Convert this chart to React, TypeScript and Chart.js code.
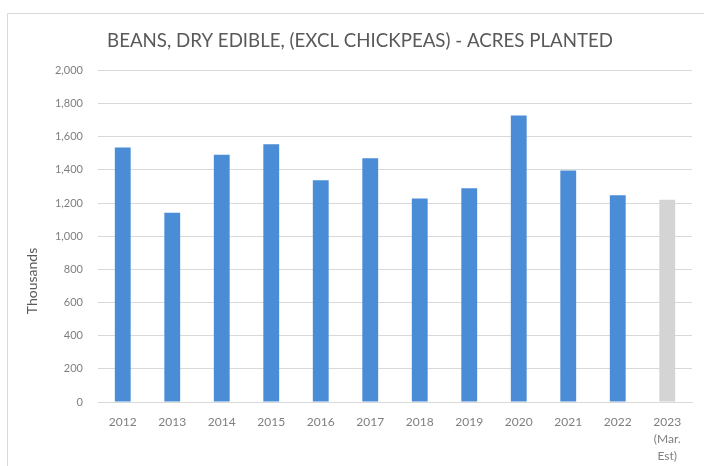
import React, { useEffect, useRef } from "react";
import { Chart, registerables } from "chart.js";

Chart.register(...registerables);

const categories: (string | string[])[] = [
  "2012", "2013", "2014", "2015", "2016", "2017", "2018", "2019", "2020", "2021", "2022",
  ["2023", "(Mar.", "Est)"],
];
const acresPlanted = [1535, 1142, 1492, 1555, 1337, 1470, 1227, 1289, 1728, 1396, 1247, 1220];
const estimateFlags = [false, false, false, false, false, false, false, false, false, false, false, true];
const titleText = "BEANS, DRY EDIBLE, (EXCL CHICKPEAS) - ACRES PLANTED";
const yAxisTitle = "Thousands";

const FONT = "Lato, 'Open Sans', 'Noto Sans', sans-serif";

const framePlugin = {
  id: "frame",
  beforeDraw(chart: any) {
    const { ctx, width, height } = chart;
    ctx.save();
    ctx.fillStyle = "#ffffff";
    ctx.fillRect(0, 0, width, height);
    ctx.strokeStyle = "#d9d9d9";
    ctx.lineWidth = 1;
    ctx.beginPath();
    ctx.moveTo(7.5, height);
    ctx.lineTo(7.5, 13.5);
    ctx.lineTo(width, 13.5);
    ctx.stroke();
    ctx.restore();
  },
  afterDraw(chart: any) {
    const { ctx } = chart;
    ctx.save();
    ctx.translate(32, 281);
    ctx.rotate(-Math.PI / 2);
    ctx.fillStyle = "#595959";
    ctx.font = `14px ${FONT}`;
    ctx.textAlign = "center";
    ctx.textBaseline = "middle";
    ctx.fillText(yAxisTitle, 0, 0);
    ctx.restore();
  },
};

export default function App() {
  const ref = useRef<HTMLCanvasElement>(null);
  useEffect(() => {
    document.body.style.margin = "0";
    const chart = new Chart(ref.current!, {
      type: "bar",
      data: {
        labels: categories,
        datasets: [
          {
            label: "Acres planted",
            data: acresPlanted,
            backgroundColor: estimateFlags.map((e) => (e ? "#d4d4d4" : "#4a8dd6")),
            categoryPercentage: 1,
            barPercentage: 0.32,
          },
        ],
      },
      options: {
        animation: false,
        responsive: false,
        layout: { padding: { left: 28, right: 12, top: 0, bottom: 0 } },
        plugins: {
          legend: { display: false },
          tooltip: { enabled: false },
          title: {
            display: true,
            text: titleText,
            color: "#595959",
            font: { family: FONT, size: 18.7, weight: "normal", lineHeight: 1.2 },
            padding: { top: 30, bottom: 18 },
          },
        },
        scales: {
          x: {
            grid: { display: false, drawTicks: false },
            border: { display: true, color: "#d9d9d9" },
            ticks: {
              color: "#7f7f7f",
              font: { family: FONT, size: 12, lineHeight: 1.45 },
              padding: 11,
              maxRotation: 0,
              autoSkip: false,
            },
            afterFit(scale: any) {
              scale.height = 64;
            },
          },
          y: {
            min: 0,
            max: 2000,
            grid: { color: "#d9d9d9", drawTicks: false },
            border: { display: false },
            ticks: {
              stepSize: 200,
              color: "#7f7f7f",
              font: { family: FONT, size: 11 },
              padding: 15,
              callback: (v: any) => Number(v).toLocaleString("en-US"),
            },
            afterFit(scale: any) {
              scale.width = 70;
            },
          },
        },
      },
      plugins: [framePlugin],
    });
    return () => chart.destroy();
  }, []);
  return <canvas ref={ref} width={704} height={466} style={{ display: "block" }} />;
}
